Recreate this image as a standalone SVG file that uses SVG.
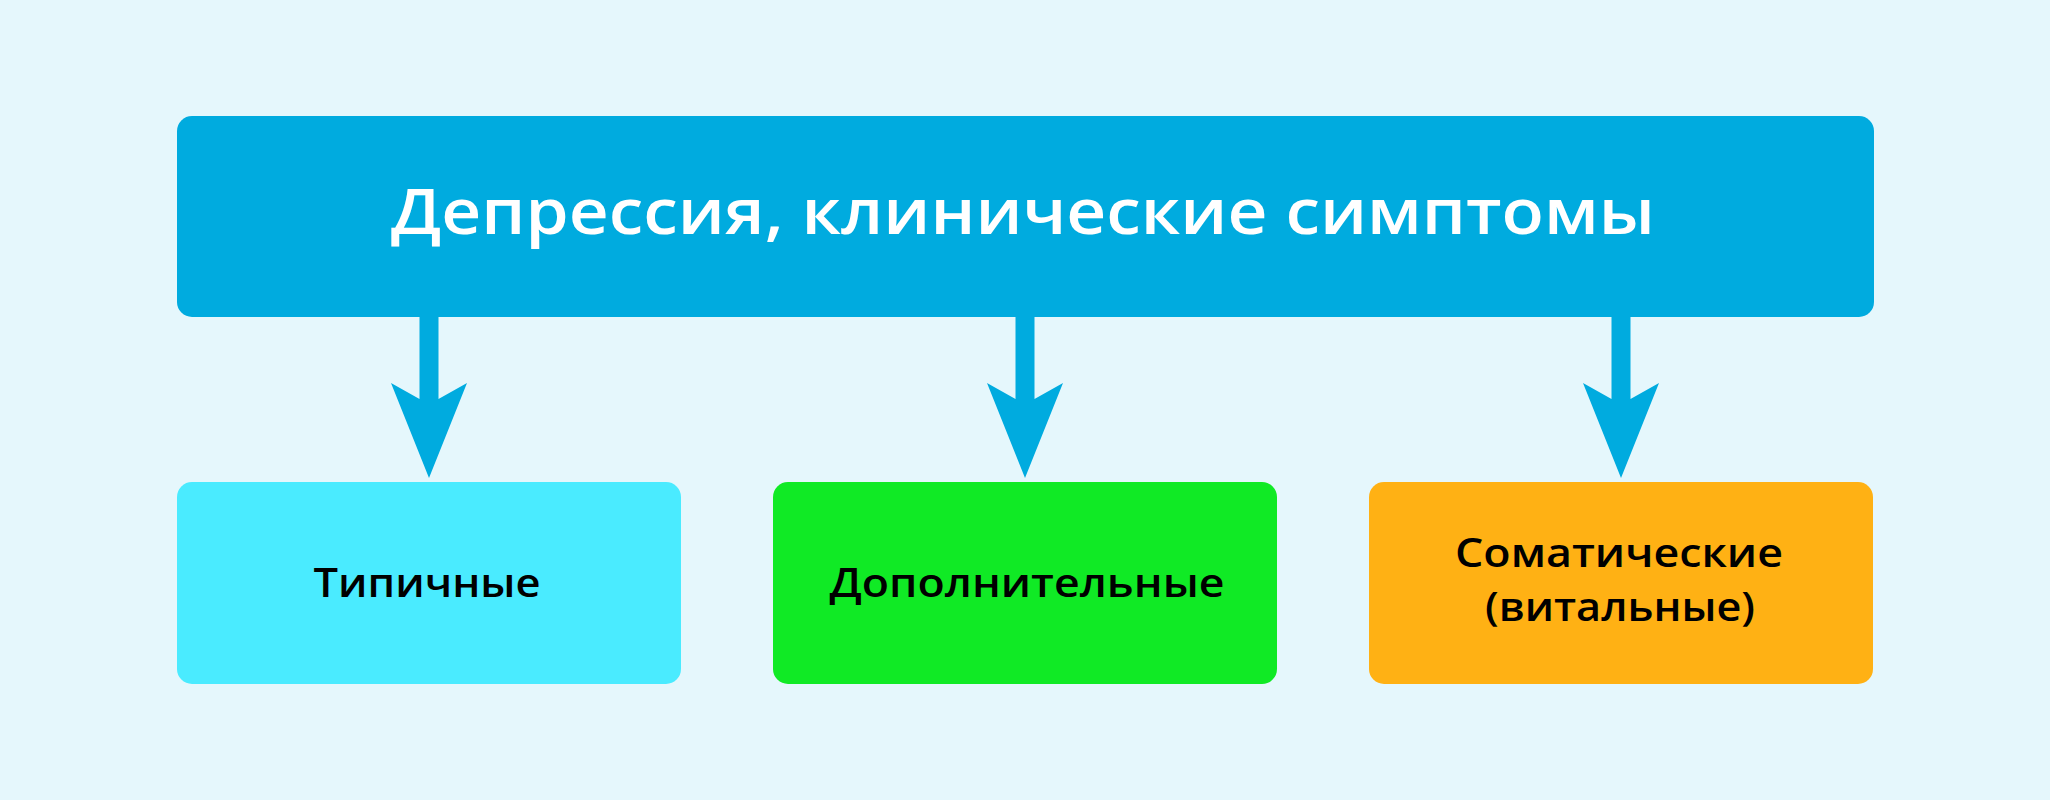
<svg xmlns="http://www.w3.org/2000/svg" width="2050" height="800" viewBox="0 0 2050 800">
<defs>
<style>
.bg{fill:#e5f7fc}
.box{rx:15px;ry:15px}
.title{font-family:"Open Sans","Noto Sans","DejaVu Sans",sans-serif;font-size:64px;font-weight:600;fill:#ffffff;text-anchor:middle}
.lbl{font-family:"Open Sans","Noto Sans","DejaVu Sans",sans-serif;font-size:39px;font-weight:600;fill:#000000;text-anchor:middle}
.arrow{fill:#00abdf}
</style>
<path id="arr" d="M-9.5,0 L-9.5,83 L-38,67 L0,162 L38,67 L9.5,83 L9.5,0 Z"/>
</defs>
<rect class="bg" x="0" y="0" width="2050" height="800"/>
<g id="connectors" class="arrow">
<use href="#arr" x="429" y="316"/>
<use href="#arr" x="1025" y="316"/>
<use href="#arr" x="1621" y="316"/>
</g>
<g id="node-main">
<rect class="box" x="177" y="116" width="1697" height="201" fill="#00abdf"/>
<text class="title" x="1023" y="234" textLength="1264" lengthAdjust="spacingAndGlyphs">Депрессия, клинические симптомы</text>
</g>
<g id="node-typical">
<rect class="box" x="177" y="482" width="504" height="202" fill="#4aebff"/>
<text class="lbl" x="427" y="597" textLength="227" lengthAdjust="spacingAndGlyphs">Типичные</text>
</g>
<g id="node-additional">
<rect class="box" x="773" y="482" width="504" height="202" fill="#10ea25"/>
<text class="lbl" x="1027" y="597" textLength="395" lengthAdjust="spacingAndGlyphs">Дополнительные</text>
</g>
<g id="node-somatic">
<rect class="box" x="1369" y="482" width="504" height="202" fill="#ffb114"/>
<text class="lbl" x="1619" y="567" textLength="328" lengthAdjust="spacingAndGlyphs">Соматические</text>
<text class="lbl" x="1620" y="621" textLength="270" lengthAdjust="spacingAndGlyphs">(витальные)</text>
</g>
</svg>
